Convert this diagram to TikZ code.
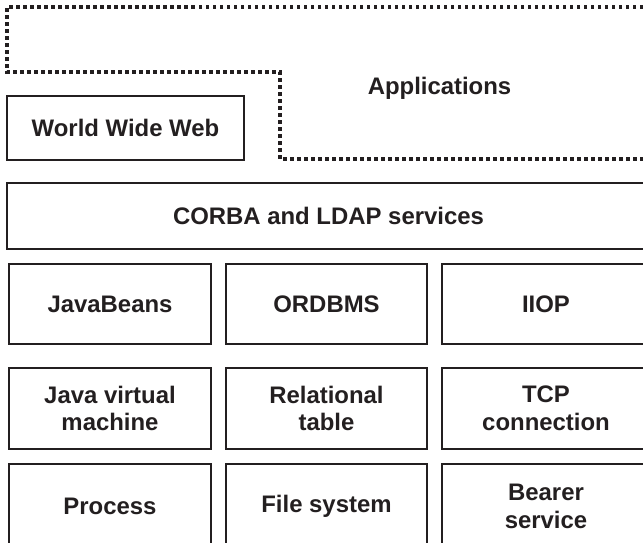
\documentclass[tikz,border=0pt]{standalone}
\usepackage{fontspec}
\setmainfont{Liberation Sans}
\definecolor{ink}{HTML}{231F20}
\begin{document}
\begin{tikzpicture}[x=1bp, y=-1bp,
  label text/.style={text=ink, align=center, inner sep=0pt,
    font=\fontsize{24}{28}\selectfont\bfseries},
  layer/.style={label text, draw=ink, line width=2.6bp, rectangle},
  outline/.style={draw=ink, line width=3.5bp, line cap=butt,
    dash pattern=on 3.5bp off 3.5bp}]
\useasboundingbox (0,0) rectangle (643,543);
\clip (0,0) rectangle (643,543);
\fill[white] (0,0) rectangle (643,543);

% stepped outline of the application layer
\draw[outline] (650,7) -- (7,7) -- (7,72) -- (280,72) -- (280,159) -- (650,159);
\node[label text] (apps) at (439.5,88) {Applications};

% web and middleware layers
\node[layer, minimum width=237bp, minimum height=64bp] (www) at (125.5,128) {World Wide Web};
\node[layer, minimum width=643bp, minimum height=66bp] (corba) at (328.5,216) {CORBA and LDAP services};

% component layer
\node[layer, minimum width=202bp, minimum height=80bp] (beans) at (110,304) {JavaBeans};
\node[layer, minimum width=201bp, minimum height=80bp] (ordbms) at (326.5,304) {ORDBMS};
\node[layer, minimum width=208bp, minimum height=80bp] (iiop) at (546,304) {IIOP};

% runtime layer
\node[layer, minimum width=202bp, minimum height=81bp] (jvm) at (110,408.5) {Java virtual\\machine};
\node[layer, minimum width=201bp, minimum height=81bp] (rel) at (326.5,408.5) {Relational\\table};
\node[layer, minimum width=208bp, minimum height=81bp] (tcp) at (546,408.5) {TCP\\connection};

% system layer
\node[layer, minimum width=202bp, minimum height=84bp] (proc) at (110,506) {Process};
\node[layer, minimum width=201bp, minimum height=84bp] (fs) at (326.5,506) {File system};
\node[layer, minimum width=208bp, minimum height=84bp] (bearer) at (546,506) {Bearer\\service};
\end{tikzpicture}
\end{document}
